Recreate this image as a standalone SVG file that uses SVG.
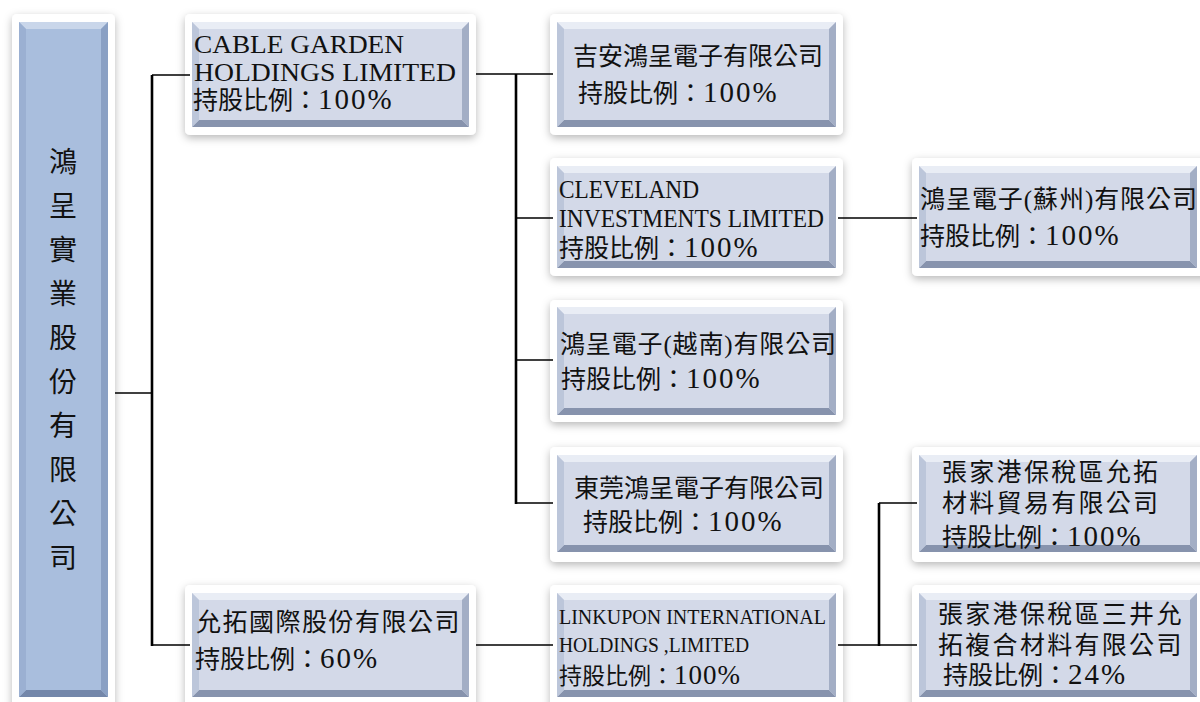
<svg xmlns="http://www.w3.org/2000/svg" width="1200" height="702" viewBox="0 0 1200 702">
<defs>
<filter id="sh" x="-10%" y="-10%" width="120%" height="130%">
<feDropShadow dx="0" dy="3" stdDeviation="4" flood-color="#000" flood-opacity="0.28"/>
</filter>
<style>
.frame{fill:#fff;filter:url(#sh)}
.face{fill:#d3d9e8}
.bt{fill:#e9edf5}
.bl{fill:#bcc6da}
.br{fill:#a3aec5}
.bb{fill:#8793ad}
.rface{fill:#a9bedd}
.rbt{fill:#c9d6ea}
.rbl{fill:#9bb0d2}
.rbr{fill:#8aa0c4}
.rbb{fill:#7487aa}
text{font-family:"Liberation Serif","Noto Sans CJK TC",serif;fill:#111}
.cj{font-size:25px}
.la{font-size:25px}
.pc{font-size:29px;letter-spacing:2px}
.root{font-size:28px}
.h{stroke:#000;stroke-width:1.6;fill:none}
.v{stroke:#000;stroke-width:2.6;fill:none}
</style>
</defs>
<rect width="1200" height="702" fill="#fff"/>

<g id="root">
<rect class="frame" x="12" y="14" width="103" height="700" rx="5"/>
<rect class="rface" x="19" y="22" width="89" height="675"/>
<polygon class="rbt" points="19,22 108,22 101,29 26,29"/>
<polygon class="rbb" points="19,697 108,697 101,690 26,690"/>
<polygon class="rbl" points="19,22 26,29 26,690 19,697"/>
<polygon class="rbr" points="108,22 101,29 101,690 108,697"/>
<text class="root" text-anchor="middle"><tspan x="63" y="172">鴻</tspan><tspan x="63" y="216">呈</tspan><tspan x="63" y="260">實</tspan><tspan x="63" y="304">業</tspan><tspan x="63" y="348">股</tspan><tspan x="63" y="392">份</tspan><tspan x="63" y="436">有</tspan><tspan x="63" y="480">限</tspan><tspan x="63" y="524">公</tspan><tspan x="63" y="568">司</tspan></text>
</g>

<g id="cable">
<rect class="frame" x="185" y="14" width="291" height="121" rx="5"/>
<rect class="face" x="192" y="22" width="277" height="105"/>
<polygon class="bt" points="192,22 469,22 462,29 199,29"/>
<polygon class="bb" points="192,127 469,127 462,120 199,120"/>
<polygon class="bl" points="192,22 199,29 199,120 192,127"/>
<polygon class="br" points="469,22 462,29 462,120 469,127"/>
<text class="la" x="194" y="53" textLength="210" lengthAdjust="spacingAndGlyphs">CABLE GARDEN</text>
<text class="la" x="194" y="81" textLength="262" lengthAdjust="spacingAndGlyphs">HOLDINGS LIMITED</text>
<text class="cj" x="193" y="109">持股比例：<tspan class="pc">100%</tspan></text>
</g>

<g id="jian">
<rect class="frame" x="550" y="14" width="293" height="121" rx="5"/>
<rect class="face" x="557" y="22" width="279" height="105"/>
<polygon class="bt" points="557,22 836,22 829,29 564,29"/>
<polygon class="bb" points="557,127 836,127 829,120 564,120"/>
<polygon class="bl" points="557,22 564,29 564,120 557,127"/>
<polygon class="br" points="836,22 829,29 829,120 836,127"/>
<text class="cj" x="573" y="65">吉安鴻呈電子有限公司</text>
<text class="cj" x="578" y="102">持股比例：<tspan class="pc">100%</tspan></text>
</g>

<g id="cleveland">
<rect class="frame" x="550" y="158" width="293" height="118" rx="5"/>
<rect class="face" x="557" y="166" width="279" height="102"/>
<polygon class="bt" points="557,166 836,166 829,173 564,173"/>
<polygon class="bb" points="557,268 836,268 829,261 564,261"/>
<polygon class="bl" points="557,166 564,173 564,261 557,268"/>
<polygon class="br" points="836,166 829,173 829,261 836,268"/>
<text x="559" y="198" font-size="25" textLength="140" lengthAdjust="spacingAndGlyphs">CLEVELAND</text>
<text x="559" y="227" font-size="25" textLength="265" lengthAdjust="spacingAndGlyphs">INVESTMENTS LIMITED</text>
<text class="cj" x="559" y="257">持股比例：<tspan class="pc">100%</tspan></text>
</g>

<g id="suzhou">
<rect class="frame" x="912" y="158" width="300" height="118" rx="5"/>
<rect class="face" x="919" y="166" width="278" height="102"/>
<polygon class="bt" points="919,166 1197,166 1190,173 926,173"/>
<polygon class="bb" points="919,268 1197,268 1190,261 926,261"/>
<polygon class="bl" points="919,166 926,173 926,261 919,268"/>
<polygon class="br" points="1197,166 1190,173 1190,261 1197,268"/>
<text class="cj" x="920" y="208" textLength="277" lengthAdjust="spacing">鴻呈電子(蘇州)有限公司</text>
<text class="cj" x="920" y="245">持股比例：<tspan class="pc">100%</tspan></text>
</g>

<g id="vietnam">
<rect class="frame" x="550" y="300" width="293" height="122" rx="5"/>
<rect class="face" x="557" y="307" width="279" height="108"/>
<polygon class="bt" points="557,307 836,307 829,314 564,314"/>
<polygon class="bb" points="557,415 836,415 829,408 564,408"/>
<polygon class="bl" points="557,307 564,314 564,408 557,415"/>
<polygon class="br" points="836,307 829,314 829,408 836,415"/>
<text class="cj" x="560" y="353" textLength="276" lengthAdjust="spacing">鴻呈電子(越南)有限公司</text>
<text class="cj" x="561" y="388">持股比例：<tspan class="pc">100%</tspan></text>
</g>

<g id="dongguan">
<rect class="frame" x="550" y="447" width="293" height="115" rx="5"/>
<rect class="face" x="557" y="455" width="279" height="97"/>
<polygon class="bt" points="557,455 836,455 829,462 564,462"/>
<polygon class="bb" points="557,552 836,552 829,545 564,545"/>
<polygon class="bl" points="557,455 564,462 564,545 557,552"/>
<polygon class="br" points="836,455 829,462 829,545 836,552"/>
<text class="cj" x="574" y="497">東莞鴻呈電子有限公司</text>
<text class="cj" x="583" y="531">持股比例：<tspan class="pc">100%</tspan></text>
</g>

<g id="zjg1">
<rect class="frame" x="912" y="447" width="300" height="115" rx="5"/>
<rect class="face" x="919" y="455" width="278" height="97"/>
<polygon class="bt" points="919,455 1197,455 1190,462 926,462"/>
<polygon class="bb" points="919,552 1197,552 1190,545 926,545"/>
<polygon class="bl" points="919,455 926,462 926,545 919,552"/>
<polygon class="br" points="1197,455 1190,462 1190,545 1197,552"/>
<text class="cj" x="942" y="481" letter-spacing="2.3">張家港保稅區允拓</text>
<text class="cj" x="942" y="512" letter-spacing="2.3">材料貿易有限公司</text>
<text class="cj" x="942" y="546">持股比例：<tspan class="pc">100%</tspan></text>
</g>

<g id="yuntuo">
<rect class="frame" x="185" y="585" width="291" height="125" rx="5"/>
<rect class="face" x="192" y="593" width="277" height="104"/>
<polygon class="bt" points="192,593 469,593 462,600 199,600"/>
<polygon class="bb" points="192,697 469,697 462,690 199,690"/>
<polygon class="bl" points="192,593 199,600 199,690 192,697"/>
<polygon class="br" points="469,593 462,600 462,690 469,697"/>
<text class="cj" x="196" y="631" letter-spacing="1.5">允拓國際股份有限公司</text>
<text class="cj" x="195" y="668">持股比例：<tspan class="pc">60%</tspan></text>
</g>

<g id="linkupon">
<rect class="frame" x="550" y="585" width="293" height="125" rx="5"/>
<rect class="face" x="557" y="593" width="279" height="104"/>
<polygon class="bt" points="557,593 836,593 829,600 564,600"/>
<polygon class="bb" points="557,697 836,697 829,690 564,690"/>
<polygon class="bl" points="557,593 564,600 564,690 557,697"/>
<polygon class="br" points="836,593 829,600 829,690 836,697"/>
<text x="559" y="624" font-size="22" textLength="267" lengthAdjust="spacingAndGlyphs">LINKUPON INTERNATIONAL</text>
<text x="559" y="652" font-size="22" textLength="190" lengthAdjust="spacingAndGlyphs">HOLDINGS ,LIMITED</text>
<text x="559" y="684" font-size="23">持股比例：<tspan font-size="27" letter-spacing="1">100%</tspan></text>
</g>

<g id="zjg2">
<rect class="frame" x="912" y="585" width="300" height="125" rx="5"/>
<rect class="face" x="919" y="593" width="278" height="104"/>
<polygon class="bt" points="919,593 1197,593 1190,600 926,600"/>
<polygon class="bb" points="919,697 1197,697 1190,690 926,690"/>
<polygon class="bl" points="919,593 926,600 926,690 919,697"/>
<polygon class="br" points="1197,593 1190,600 1190,690 1197,697"/>
<text class="cj" x="938" y="623" letter-spacing="2.3">張家港保稅區三井允</text>
<text class="cj" x="938" y="654" letter-spacing="2.3">拓複合材料有限公司</text>
<text class="cj" x="943" y="684">持股比例：<tspan class="pc">24%</tspan></text>
</g>

<g id="connectors">
<path class="h" d="M115,393H152"/>
<path class="v" d="M152,75V646"/>
<path class="h" d="M152,75H190M152,645H190"/>
<path class="h" d="M476,74H553"/>
<path class="v" d="M516,74V504"/>
<path class="h" d="M516,218H553M516,360H553M516,503H553"/>
<path class="h" d="M838,218H917"/>
<path class="h" d="M476,645H553"/>
<path class="h" d="M838,645H917M879,503H917"/>
<path class="v" d="M879,503V646"/>
</g>
</svg>
